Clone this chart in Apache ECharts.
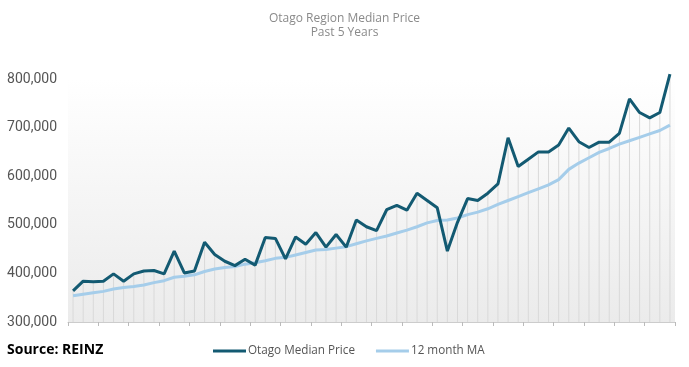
<!DOCTYPE html>
<html><head><meta charset="utf-8">
<script src="https://cdn.jsdelivr.net/npm/echarts@6/dist/echarts.min.js"></script>
<style>html,body{margin:0;padding:0;background:#fff}#c{width:689px;height:367px}</style>
</head><body><div id="c"></div>
<script>
const titleLines = ['Otago Region Median Price', 'Past 5 Years'];
const sourceText = 'Source: REINZ';
const seriesNames = ['Otago Median Price', '12 month MA'];
const yTicks = [300000, 400000, 500000, 600000, 700000, 800000];
const months = Array.from({length: 60}, (_, i) => 'M' + (i + 1));
const medianPrice = [
  364000, 384000, 383000, 384000, 399000, 384000, 399000, 405000, 406000, 399000,
  446000, 401000, 405000, 464000, 439000, 425000, 416000, 429000, 417000, 474000,
  472000, 430000, 475000, 460000, 484000, 454000, 480000, 454000, 510000, 496000,
  488000, 531000, 540000, 530000, 565000, 550000, 535000, 446000, 505000, 554000,
  550000, 565000, 584000, 679000, 620000, 635000, 650000, 650000, 664000, 699000,
  671000, 659000, 670000, 670000, 688000, 759000, 731000, 720000, 731000, 810000
];
const movingAvg = [
  354000, 357000, 360000, 363000, 368000, 371000, 373000, 376000, 381000, 385000,
  392000, 394000, 397000, 404000, 409000, 412000, 414000, 419000, 422000, 426000,
  431000, 433000, 438000, 443000, 448000, 449000, 452000, 455000, 461000, 467000,
  472000, 477000, 483000, 489000, 496000, 504000, 509000, 510000, 514000, 521000,
  526000, 533000, 542000, 550000, 558000, 566000, 574000, 582000, 593000, 614000,
  627000, 638000, 649000, 657000, 666000, 673000, 680000, 687000, 694000, 705000
];
const dropLines = medianPrice.map((v, i) => Math.max(v, movingAvg[i]));
const font = "'Open Sans', Roboto, sans-serif";

const chart = echarts.init(document.getElementById('c'));
chart.setOption({
  animation: false,
  title: {
    text: titleLines.join('\n'), left: 'center', top: 7,
    textStyle: {color: '#8a8a8a', fontSize: 12, fontWeight: 'normal', fontFamily: font, lineHeight: 14}
  },
  grid: {
    left: 68, right: 14, top: 79, bottom: 45, show: true, borderWidth: 0,
    backgroundColor: new echarts.graphic.LinearGradient(0, 0, 0, 1, [
      {offset: 0, color: '#ffffff'}, {offset: 1, color: '#ebebeb'}
    ])
  },
  legend: {
    data: seriesNames, left: 208, top: 340, itemWidth: 33, itemHeight: 3, itemGap: 21,
    icon: 'rect',
    textStyle: {color: '#555', fontSize: 11.7, fontFamily: font, padding: [0, 0, 0, -3]}
  },
  graphic: [{
    type: 'text', left: 7, top: 343,
    style: {text: sourceText, fill: '#000', font: "bold 14px 'Open Sans', Roboto, sans-serif"}
  }],
  xAxis: {
    type: 'category', data: months, boundaryGap: true,
    axisLine: {lineStyle: {color: '#cccccc'}},
    axisTick: {show: true, length: 4, lineStyle: {color: '#bbbbbb'}},
    axisLabel: {show: false}, splitLine: {show: false}
  },
  yAxis: {
    type: 'value', min: yTicks[0], max: yTicks[yTicks.length - 1], interval: 100000,
    axisLine: {show: false}, axisTick: {show: false}, splitLine: {show: false},
    axisLabel: {
      color: '#555', fontSize: 14, fontFamily: 'Roboto', margin: 11,
      formatter: v => v.toLocaleString('en-US')
    }
  },
  series: [
    {
      type: 'bar', data: dropLines, barWidth: 1, silent: true, z: 1,
      itemStyle: {color: '#d9d9d9'}, legendHoverLink: false
    },
    {
      name: seriesNames[1], type: 'line', data: movingAvg, symbol: 'none', clip: false, z: 3,
      lineStyle: {color: '#a5cdea', width: 3}, itemStyle: {color: '#a5cdea'}
    },
    {
      name: seriesNames[0], type: 'line', data: medianPrice, symbol: 'none', clip: false, z: 4,
      lineStyle: {color: '#135a72', width: 3}, itemStyle: {color: '#135a72'}
    }
  ]
});
</script></body></html>
